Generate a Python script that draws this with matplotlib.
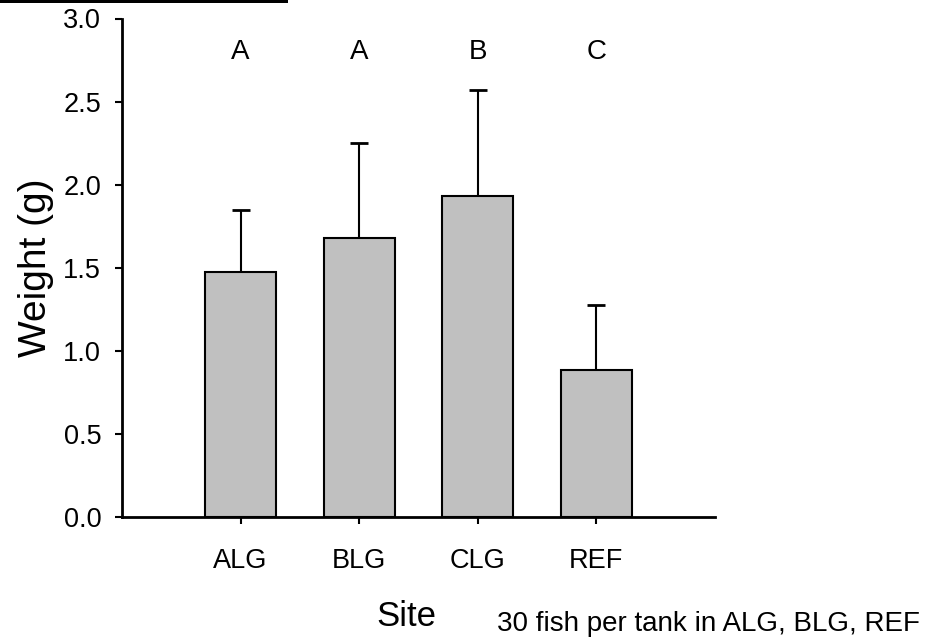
import matplotlib
matplotlib.use('Agg')
import matplotlib.pyplot as plt
from matplotlib.patches import Rectangle
from matplotlib import font_manager
import numpy as np

# the reference uses a tall, narrow sans; use Liberation Sans Narrow if it is there
names = {f.name for f in font_manager.fontManager.ttflist}
narrow = 'Liberation Sans Narrow' in names
plt.rcParams['font.family'] = ['Liberation Sans Narrow' if narrow else 'Liberation Sans', 'DejaVu Sans']
k = 1.2 if narrow else 1.0

# data
sites = ['ALG', 'BLG', 'CLG', 'REF']
weight = [1.472, 1.681, 1.931, 0.883]
weight_err = [0.373, 0.569, 0.638, 0.394]
groups = ['A', 'A', 'B', 'C']

W, H = 925, 642
fig = plt.figure(figsize=(W/100, H/100), dpi=100)
ax = fig.add_axes([122/W, 1-517/H, (715-122)/W, (517-18.5)/H])

x = np.arange(1, len(sites)+1)
ax.bar(x, weight, width=0.6, color='#c0c0c0', edgecolor='black', linewidth=1.5, zorder=2)
ax.errorbar(x, weight, yerr=[np.zeros(len(weight)), weight_err], fmt='none',
            ecolor='black', elinewidth=1.5, capsize=6.5, capthick=2, zorder=1)

for xi, g in zip(x, groups):
    ax.text(xi, 2.80, g, ha='center', va='center', fontsize=20*k)

ax.set_xlim(0, 5)
ax.set_ylim(0, 3.0)
ax.set_yticks(np.arange(0, 3.01, 0.5))
ax.set_yticklabels([f'{v:.1f}' for v in np.arange(0, 3.01, 0.5)])
ax.set_xticks(x)
ax.set_xticklabels(sites)
ax.tick_params(axis='y', direction='out', length=5, width=1.5, labelsize=19.5*k, pad=10)
ax.tick_params(axis='x', direction='out', length=5, width=1.5, labelsize=19.5*k, pad=17)
for s in ['top', 'right']:
    ax.spines[s].set_visible(False)
for s in ['left', 'bottom']:
    ax.spines[s].set_linewidth(2)

fig.text(406/W, 1-617/H, 'Site', ha='center', va='center', fontsize=25*k)
fig.text(36/W, 1-268/H, 'Weight (g)', ha='center', va='center', rotation=90, fontsize=28*k)
fig.text(497/W, 1-624/H, '30 fish per tank in ALG, BLG, REF', ha='left', va='center', fontsize=20*k)

# black strip in the top-left corner
fig.patches.append(Rectangle((0, 1-3/H), 288/W, 3/H, transform=fig.transFigure,
                             facecolor='black', edgecolor='none'))

fig.savefig('out.png', dpi=100)
